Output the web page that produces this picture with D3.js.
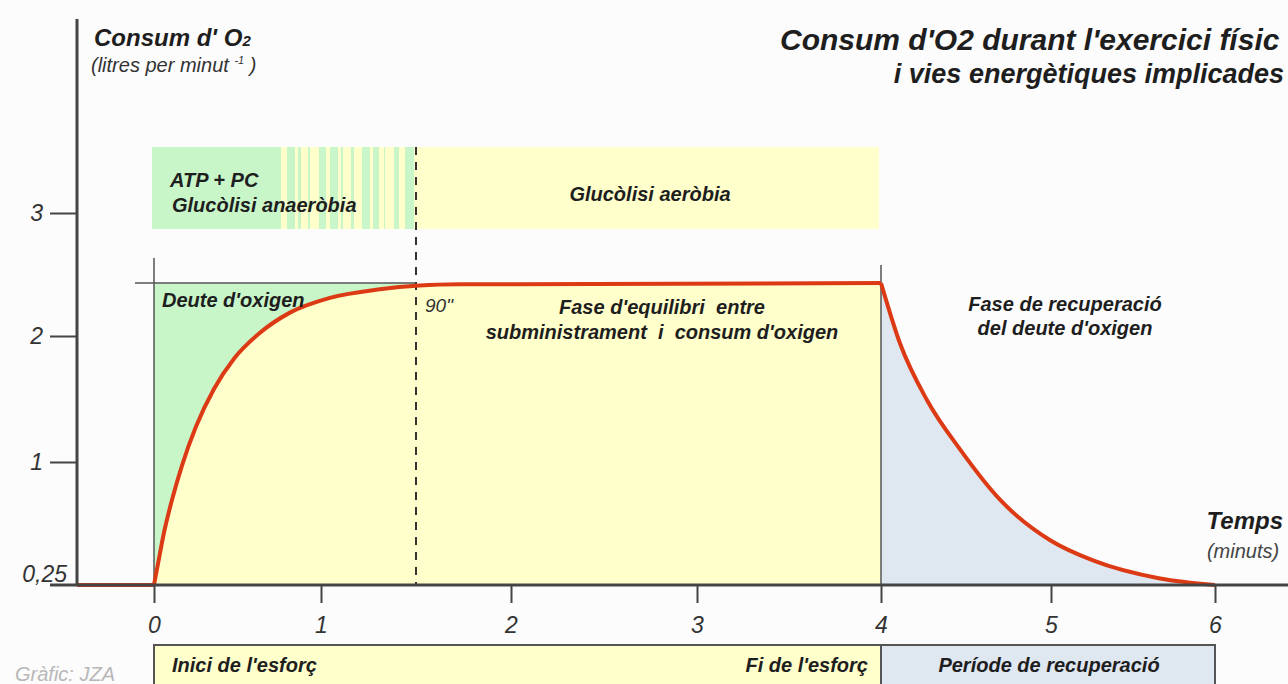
<!DOCTYPE html>
<html>
<head>
<meta charset="utf-8">
<script src="https://cdn.jsdelivr.net/npm/d3@7"></script>
<style>
  body { margin: 0; background: #fcfcfc; }
  svg { display: block; font-family: "Liberation Sans", Arial, sans-serif; }
  text { white-space: pre; }
</style>
</head>
<body>
<svg width="1288" height="684"></svg>
<script>
// O2 consumption (l/min) against time (min)
const restTime = [-0.46, 0];
const restO2 = [0.25, 0.25];
const riseTime = [0, 0.024, 0.06, 0.108, 0.168, 0.251, 0.359, 0.479, 0.629, 0.814, 1.047, 1.31, 1.52, 1.73, 4];
const riseO2 = [0.25, 0.38, 0.57, 0.77, 0.98, 1.28, 1.58, 1.82, 2.02, 2.19, 2.31, 2.38, 2.41, 2.42, 2.43];
const recTime = [4, 4.112, 4.271, 4.465, 4.70, 5.0, 5.256, 5.665, 6];
const recO2 = [2.43, 1.94, 1.49, 1.10, 0.77, 0.52, 0.40, 0.29, 0.25];
const steadyO2 = 2.43;

// axes
const xTicks = [0, 1, 2, 3, 4, 5, 6];
const yTicks = [1, 2, 3];
const yBaseLabel = "0,25";

// phase limits: start, 90", end of effort, end of recovery
const phaseBounds = [0, 1.5, 4, 6];

const svg = d3.select("svg");

// colours
const green = "#c9f6c9";
const yellow = "#ffffcc";
const blue = "#dfe7f1";
const red = "#dc3a14";
const ink = "#1e1e1e";
const axisCol = "#444";

// scales (the original drawing is not evenly spaced)
const x = d3.scaleLinear()
  .domain([-0.46, 0, 1, 2, 3, 4, 5, 6])
  .range([77, 154, 321, 511, 697, 881, 1051, 1215]);
const y = d3.scaleLinear()
  .domain([0.25, 1, 2, 3])
  .range([585, 462, 336, 213]);

const zip = (ts, vs) => ts.map((t, i) => ({ t: t, v: vs[i] }));
const rest = zip(restTime, restO2);
const rise = zip(riseTime, riseO2);
const rec = zip(recTime, recO2);

const line = d3.line().x(d => x(d.t)).y(d => y(d.v)).curve(d3.curveMonotoneX);
const area = d3.area().x(d => x(d.t)).y0(y(0.25)).y1(d => y(d.v)).curve(d3.curveMonotoneX);

// oxygen debt (green) under steady level, then yellow under the curve
svg.append("rect")
  .attr("x", x(phaseBounds[0]))
  .attr("y", y(steadyO2))
  .attr("width", x(phaseBounds[1]) - x(phaseBounds[0]))
  .attr("height", y(0.25) - y(steadyO2))
  .attr("fill", green);
svg.append("path").attr("d", area(rise)).attr("fill", yellow);
svg.append("path").attr("d", area(rec)).attr("fill", blue);

// top band: energy pathways
const defs = svg.append("defs");
const grad = defs.append("linearGradient").attr("id", "mix");
const stops = [{ o: 0, c: green }];
const solid = 0.47, n = 13;
for (let i = 0; i < n; i++) {
  const a = solid + (1 - solid) * i / n;
  const b = solid + (1 - solid) * (i + 1) / n;
  const m = a + (b - a) * (0.45 + 0.35 * Math.sin(i * 1.7));
  stops.push({ o: a, c: green }, { o: m, c: green }, { o: m, c: yellow }, { o: b, c: yellow });
}
grad.selectAll("stop").data(stops).enter().append("stop")
  .attr("offset", d => d.o)
  .attr("stop-color", d => d.c);

const bandTop = 147, bandH = 82;
svg.append("rect")
  .attr("x", x(phaseBounds[0]) - 2).attr("y", bandTop)
  .attr("width", x(phaseBounds[1]) - x(phaseBounds[0]) + 2).attr("height", bandH)
  .attr("fill", "url(#mix)");
svg.append("rect")
  .attr("x", x(phaseBounds[1])).attr("y", bandTop)
  .attr("width", x(phaseBounds[2]) - x(phaseBounds[1]) - 2).attr("height", bandH)
  .attr("fill", yellow);

// reference lines
const thin = svg.append("g").attr("stroke", "#555").attr("stroke-width", 1.5);
thin.append("line")
  .attr("x1", x(phaseBounds[0])).attr("x2", x(phaseBounds[0]))
  .attr("y1", 258).attr("y2", y(0.25));
thin.append("line")
  .attr("x1", 135).attr("x2", x(phaseBounds[1]))
  .attr("y1", y(steadyO2)).attr("y2", y(steadyO2));
thin.append("line")
  .attr("x1", x(phaseBounds[2])).attr("x2", x(phaseBounds[2]))
  .attr("y1", 265).attr("y2", y(0.25));

svg.append("line")
  .attr("x1", x(phaseBounds[1])).attr("x2", x(phaseBounds[1]))
  .attr("y1", bandTop).attr("y2", y(0.25))
  .attr("stroke", "#333").attr("stroke-width", 2)
  .attr("stroke-dasharray", "8,7");

// the curve
const curve = svg.append("g").attr("fill", "none").attr("stroke", red)
  .attr("stroke-width", 4).attr("stroke-linejoin", "round");
curve.append("path").attr("d", d3.line().x(d => x(d.t)).y(d => y(d.v))(rest));
curve.append("path").attr("d", line(rise));
curve.append("path").attr("d", line(rec));

// axes
svg.append("line")
  .attr("x1", x(-0.46)).attr("x2", x(-0.46))
  .attr("y1", 19).attr("y2", y(0.25) + 1)
  .attr("stroke", axisCol).attr("stroke-width", 3);
svg.append("line")
  .attr("x1", 50).attr("x2", 1288)
  .attr("y1", y(0.25)).attr("y2", y(0.25))
  .attr("stroke", axisCol).attr("stroke-width", 3);

const yAxis = svg.append("g")
  .attr("transform", "translate(" + x(-0.46) + ",0)")
  .call(d3.axisLeft(y).tickValues(yTicks).tickFormat(d3.format("d")).tickSize(27).tickPadding(7));
const xAxis = svg.append("g")
  .attr("transform", "translate(0," + y(0.25) + ")")
  .call(d3.axisBottom(x).tickValues(xTicks).tickFormat(d3.format("d")).tickSize(18).tickPadding(14));
[xAxis, yAxis].forEach(g => {
  g.select(".domain").remove();
  g.selectAll(".tick line").attr("stroke", axisCol).attr("stroke-width", 2);
  g.selectAll(".tick text")
    .attr("fill", "#333")
    .style("font-family", "'Liberation Sans', Arial, sans-serif")
    .style("font-size", "23px")
    .style("font-style", "italic");
});
svg.append("text")
  .attr("x", 67).attr("y", 582)
  .attr("text-anchor", "end")
  .attr("fill", "#333")
  .style("font-size", "23px").style("font-style", "italic")
  .text(yBaseLabel);

// bottom band: phases of the effort
const bottom = svg.append("g").attr("stroke", "#555").attr("stroke-width", 2);
bottom.append("rect")
  .attr("x", x(phaseBounds[0])).attr("y", 645)
  .attr("width", x(phaseBounds[2]) - x(phaseBounds[0])).attr("height", 60)
  .attr("fill", yellow);
bottom.append("rect")
  .attr("x", x(phaseBounds[2])).attr("y", 645)
  .attr("width", x(phaseBounds[3]) - x(phaseBounds[2])).attr("height", 60)
  .attr("fill", blue);

// labels
function label(tx, ty, str, opts) {
  opts = opts || {};
  return svg.append("text")
    .attr("x", tx).attr("y", ty)
    .attr("text-anchor", opts.anchor || "start")
    .attr("fill", opts.fill || ink)
    .style("font-size", (opts.size || 20) + "px")
    .style("font-weight", opts.weight || "bold")
    .style("font-style", "italic")
    .text(str);
}

label(780, 50, "Consum d'O2 durant l'exercici físic", { size: 30 });
label(1284, 83, "i vies energètiques implicades", { size: 27, anchor: "end" });

const yTitle = label(94, 46, "Consum d' O", { size: 24 });
yTitle.append("tspan").style("font-size", "15px").text("2");
const yUnit = label(91, 72, "(litres per minut ", { size: 20, weight: "normal", fill: "#333" });
yUnit.append("tspan").attr("dy", -8).style("font-size", "11px").text("-1");
yUnit.append("tspan").attr("dy", 8).text(" )");

label(170, 187, "ATP + PC");
label(172, 212, "Glucòlisi anaeròbia");
label(650, 201, "Glucòlisi aeròbia", { anchor: "middle" });

label(162, 307, "Deute d'oxigen");
label(425, 312, "90\"", { weight: "normal", size: 19, fill: "#333" });
label(662, 314, "Fase d'equilibri  entre", { anchor: "middle" });
label(662, 339, "subministrament  i  consum d'oxigen", { anchor: "middle" });
label(1065, 311, "Fase de recuperació", { anchor: "middle" });
label(1065, 335, "del deute d'oxigen", { anchor: "middle" });

label(1283, 529, "Temps", { size: 24, anchor: "end" });
label(1243, 558, "(minuts)", { weight: "normal", anchor: "middle", fill: "#444" });

label(172, 672, "Inici de l'esforç");
label(868, 672, "Fi de l'esforç", { anchor: "end" });
label(1049, 672, "Període de recuperació", { anchor: "middle" });

label(15, 681, "Gràfic: JZA", { weight: "normal", fill: "#b8b8b8" });
</script>
</body>
</html>
